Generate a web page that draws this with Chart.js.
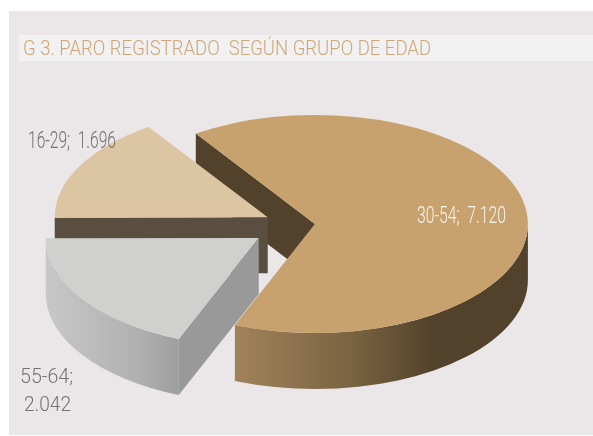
<!DOCTYPE html>
<html><head><meta charset="utf-8">
<style>
html,body{margin:0;padding:0;background:#fff;width:593px;height:436px;overflow:hidden}
#card{position:absolute;left:9px;top:11px;width:584px;height:424px;background:#ebe6e7}
#band{position:absolute;left:19px;top:35px;width:574px;height:26px;background:#f1f1f1}
#wrap{position:absolute;left:0;top:0;width:593px;height:436px}
</style>
<script src="https://cdn.jsdelivr.net/npm/chart.js@4"></script>
</head><body>
<div id="card"></div><div id="band"></div>
<div id="wrap"><canvas id="c" width="593" height="436"></canvas></div>
<script>
const categories = ['30-54', '55-64', '16-29'];
const values = [7120, 2042, 1696];
const titleText = 'G 3. PARO REGISTRADO  SEGÚN GRUPO DE EDAD';

const topColors = ['#c8a26e', '#d0d0ce', '#dcc5a3'];
const explode = [19, 45, 32];
const drawOrder = [0, 2, 1];
const center = {x: 296, y: 225};
const squash = 0.512;
const depth = 56;
const cutColors = ['#52412b', '#999999', '#5a4e40'];
const rimStops = [
  [[0, '#a1835a'], [0.4, '#7a6341'], [0.68, '#52412b'], [1, '#52412b']],
  [[0, '#c8c8c8'], [0.7, '#b0b0b0'], [1, '#9e9e9e']],
  [[0, '#5a4e40'], [1, '#5a4e40']]
];
const FONT = '300 SIZEpx Roboto';
const titleBox = {x: 23, width: 408};
const labelSpec = [
  {i: 2, x: [28], y: [147.5], w: [88], color: '#767171', size: 23},
  {i: 0, x: [417], y: [222.5], w: [89], color: '#f8f3ec', size: 23},
  {i: 1, x: [20, 24], y: [383, 410.7], w: [53, 47], color: '#767171', size: 21}
];
const fmt = v => String(v).replace(/\B(?=(\d{3})+$)/g, '.');

const pie3d = {
  id: 'pie3d',
  afterLayout(chart) {
    const tb = chart.titleBlock, cx = chart.ctx;
    if (tb._wrapped) return;
    tb._wrapped = true;
    const orig = tb.draw;
    tb.draw = function () {
      cx.save();
      cx.font = '300 21px Roboto';
      const sx = titleBox.width / cx.measureText(titleText).width;
      cx.restore();
      cx.save();
      cx.translate(titleBox.x, 0);
      cx.scale(sx, 1);
      cx.translate(-titleBox.x, 0);
      orig.apply(this, arguments);
      cx.restore();
    };
  },
  beforeDatasetDraw(chart, args) {
    const ctx = chart.ctx;
    const arcs = args.meta.data;
    drawOrder.forEach(i => {
      const a = arcs[i];
      const r = a.outerRadius, s = a.startAngle, e = a.endAngle, m = (s + e) / 2;
      const ox = center.x + Math.cos(m) * explode[i];
      const oy = center.y + Math.sin(m) * explode[i] * squash;
      const pt = t => [ox + r * Math.cos(t), oy + r * squash * Math.sin(t)];
      // the radial cut face that looks toward the viewer
      ctx.fillStyle = cutColors[i];
      const p = pt(s);
      ctx.beginPath();
      ctx.moveTo(ox, oy); ctx.lineTo(p[0], p[1]);
      ctx.lineTo(p[0], p[1] + depth); ctx.lineTo(ox, oy + depth);
      ctx.closePath(); ctx.fill();
      // outer rim: the front half of the ellipse only
      const TAU = 2 * Math.PI;
      let from = s % TAU; if (from < 0) from += TAU;
      const to = from + (e - s);
      [0, TAU].forEach(base => {
        const lo = Math.max(from, base), hi = Math.min(to, base + Math.PI);
        if (hi <= lo) return;
        const xs = [pt(lo)[0], pt(hi)[0]];
        if (lo <= base) xs.push(ox + r);
        const x0 = Math.min(...xs), x1 = Math.max(...xs);
        const g = ctx.createLinearGradient(x0, 0, x1, 0);
        rimStops[i].forEach(st => g.addColorStop(st[0], st[1]));
        ctx.fillStyle = g;
        ctx.beginPath();
        ctx.ellipse(ox, oy, r, r * squash, 0, lo, hi);
        ctx.ellipse(ox, oy + depth, r, r * squash, 0, hi, lo, true);
        ctx.closePath(); ctx.fill();
      });
      // top face is the library's own arc element, drawn through a flattening transform
      ctx.save();
      ctx.translate(ox, oy);
      ctx.scale(1, squash);
      ctx.translate(-a.x, -a.y);
      a.draw(ctx);
      ctx.restore();
    });
    return false;
  },
  afterDraw(chart) {
    const ctx = chart.ctx;
    labelSpec.forEach(l => {
      const cat = categories[l.i] + ';', val = fmt(values[l.i]);
      const rows = l.x.length === 1 ? [cat + '  ' + val] : [cat, val];
      ctx.save();
      ctx.fillStyle = l.color;
      ctx.font = FONT.replace('SIZE', l.size);
      ctx.textBaseline = 'alphabetic';
      ctx.textAlign = 'left';
      rows.forEach((t, n) => {
        const sx = l.w[n] / ctx.measureText(t).width;
        ctx.save();
        ctx.translate(l.x[n], l.y[n]);
        ctx.scale(sx, 1);
        ctx.fillText(t, 0, 0);
        ctx.restore();
      });
      ctx.restore();
    });
  }
};

new Chart(document.getElementById('c'), {
  type: 'pie',
  data: {
    labels: categories,
    datasets: [{data: values, backgroundColor: topColors, borderWidth: 0, clip: false}]
  },
  options: {
    responsive: false,
    animation: false,
    rotation: -34,
    radius: 213,
    layout: {padding: {left: 23, top: 0}},
    events: [],
    plugins: {
      legend: {display: false},
      tooltip: {enabled: false},
      title: {
        display: true, text: titleText, align: 'start', color: '#cfa678',
        font: {family: 'Roboto', size: 21, weight: 300},
        padding: {top: 37, bottom: 0}
      }
    }
  },
  plugins: [pie3d]
});
</script>
</body></html>
